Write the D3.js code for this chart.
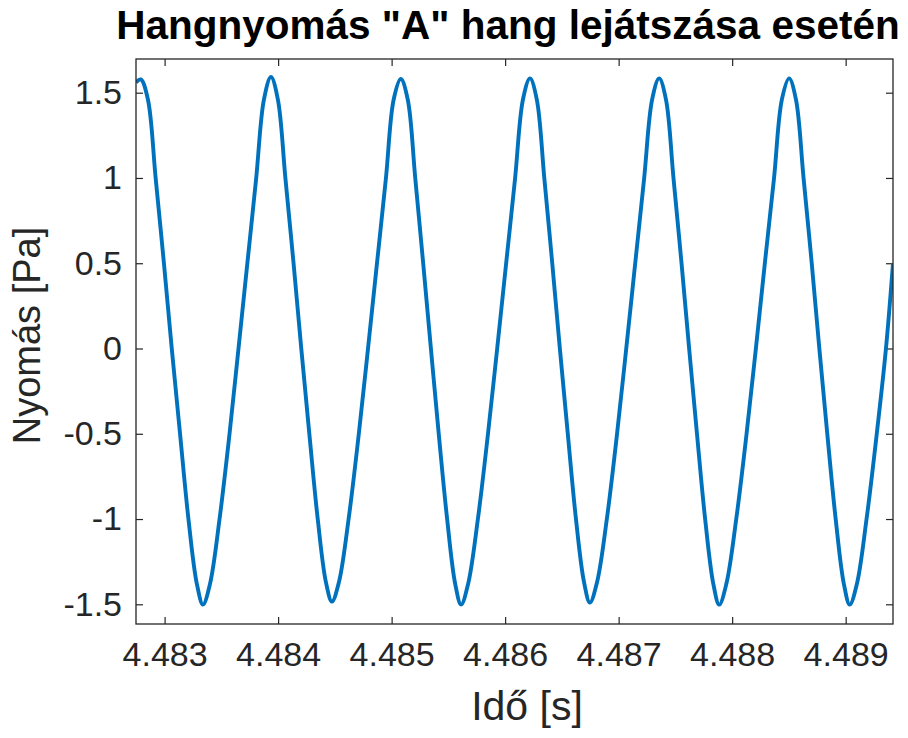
<!DOCTYPE html>
<html>
<head>
<meta charset="utf-8">
<script src="https://cdn.jsdelivr.net/npm/d3@7"></script>
<style>
  html, body { margin: 0; padding: 0; background: #ffffff; }
  svg { display: block; font-family: Arial, "Liberation Sans", Helvetica, sans-serif; }
</style>
</head>
<body>
<svg id="chart" width="908" height="738"></svg>
<script>
// Sound pressure samples while an "A" tone is played (time in s, pressure in Pa)
const timeS = [
  4.482748, 4.482790, 4.482853, 4.482921, 4.482994, 4.483063, 4.483136, 4.483210, 4.483284,
  4.483338, 4.483400, 4.483484, 4.483572, 4.483651, 4.483729, 4.483807, 4.483875,
  4.483937, 4.483998, 4.484064, 4.484136, 4.484204, 4.484275, 4.484349, 4.484421,
  4.484474, 4.484536, 4.484621, 4.484711, 4.484792, 4.484871, 4.484950, 4.485018,
  4.485081, 4.485142, 4.485208, 4.485278, 4.485346, 4.485415, 4.485489, 4.485560,
  4.485612, 4.485674, 4.485760, 4.485849, 4.485930, 4.486009, 4.486088, 4.486157,
  4.486219, 4.486279, 4.486345, 4.486415, 4.486482, 4.486552, 4.486624, 4.486695,
  4.486747, 4.486810, 4.486896, 4.486986, 4.487067, 4.487146, 4.487225, 4.487295,
  4.487357, 4.487417, 4.487483, 4.487554, 4.487621, 4.487690, 4.487762, 4.487834,
  4.487886, 4.487949, 4.488036, 4.488127, 4.488209, 4.488288, 4.488369, 4.488438,
  4.488502, 4.488562, 4.488629, 4.488701, 4.488768, 4.488838, 4.488912, 4.488984,
  4.489036, 4.489099, 4.489184, 4.489274, 4.489355, 4.489417
];
const pressurePa = [
  1.56, 1.578, 1.46, 1.0, 0.5, 0.0, -0.5, -1.0, -1.38,
  -1.502, -1.38, -1.0, -0.5, 0.0, 0.5, 1.0, 1.46,
  1.592, 1.46, 1.0, 0.5, 0.0, -0.5, -1.0, -1.37,
  -1.484, -1.37, -1.0, -0.5, 0.0, 0.5, 1.0, 1.46,
  1.580, 1.46, 1.0, 0.5, 0.0, -0.5, -1.0, -1.38,
  -1.502, -1.38, -1.0, -0.5, 0.0, 0.5, 1.0, 1.46,
  1.584, 1.46, 1.0, 0.5, 0.0, -0.5, -1.0, -1.37,
  -1.490, -1.37, -1.0, -0.5, 0.0, 0.5, 1.0, 1.46,
  1.584, 1.46, 1.0, 0.5, 0.0, -0.5, -1.0, -1.38,
  -1.502, -1.38, -1.0, -0.5, 0.0, 0.5, 1.0, 1.46,
  1.584, 1.46, 1.0, 0.5, 0.0, -0.5, -1.0, -1.38,
  -1.502, -1.38, -1.0, -0.5, 0.0, 0.5
];

const xTicks = [4.483, 4.484, 4.485, 4.486, 4.487, 4.488, 4.489];
const yTicks = [-1.5, -1, -0.5, 0, 0.5, 1, 1.5];
const xLimits = [4.482748, 4.489417];
const yLimits = [-1.6155, 1.6976];

const titleText = 'Hangnyomás "A" hang lejátszása esetén';
const xLabelText = "Idő [s]";
const yLabelText = "Nyomás [Pa]";

const data = timeS.map((t, i) => ({ t, p: pressurePa[i] }));

const svg = d3.select("#chart");
const W = 908, H = 738;
const margin = { top: 59, right: 15, bottom: 114, left: 136 };
const iw = W - margin.left - margin.right;
const ih = H - margin.top - margin.bottom;

const axisColor = "#262626";
const tickFont = 34;

const x = d3.scaleLinear().domain(xLimits).range([0, iw]);
const y = d3.scaleLinear().domain(yLimits).range([ih, 0]);

const g = svg.append("g").attr("transform", `translate(${margin.left},${margin.top})`);

// clip the trace to the axes box
g.append("clipPath").attr("id", "plot-clip")
  .append("rect").attr("width", iw).attr("height", ih);

// plain hyphen-minus labels
const fmtX = d3.format(".3f");
const fmtY = v => String(v);

// bottom axis with inward ticks
const xAxis = g.append("g").attr("transform", `translate(0,${ih})`)
  .call(d3.axisBottom(x).tickValues(xTicks).tickFormat(fmtX).tickSizeInner(-7).tickSizeOuter(0).tickPadding(18));
// top axis ticks only
const xAxisTop = g.append("g")
  .call(d3.axisTop(x).tickValues(xTicks).tickFormat("").tickSizeInner(-7).tickSizeOuter(0));
// left axis with inward ticks
const yAxis = g.append("g")
  .call(d3.axisLeft(y).tickValues(yTicks).tickFormat(fmtY).tickSizeInner(-7).tickSizeOuter(0).tickPadding(14));
// right axis ticks only
const yAxisRight = g.append("g").attr("transform", `translate(${iw},0)`)
  .call(d3.axisRight(y).tickValues(yTicks).tickFormat("").tickSizeInner(-7).tickSizeOuter(0));

[xAxis, xAxisTop, yAxis, yAxisRight].forEach(a => {
  a.select(".domain").remove();
  a.selectAll(".tick line").attr("stroke", axisColor).attr("stroke-width", 1.2);
  a.selectAll(".tick text")
    .attr("fill", axisColor)
    .style("font-size", tickFont + "px")
    .style("font-family", "Arial, 'Liberation Sans', sans-serif");
});
xAxis.selectAll(".tick text").attr("dy", "0.71em");

// the trace
const line = d3.line()
  .x(d => x(d.t))
  .y(d => y(d.p))
  .curve(d3.curveCatmullRom.alpha(0.5));

g.append("path")
  .datum(data)
  .attr("clip-path", "url(#plot-clip)")
  .attr("fill", "none")
  .attr("stroke", "#0072BD")
  .attr("stroke-width", 3.9)
  .attr("stroke-linejoin", "round")
  .attr("d", line);

// axes box
g.append("rect")
  .attr("width", iw).attr("height", ih)
  .attr("fill", "none")
  .attr("stroke", axisColor)
  .attr("stroke-width", 1.3);

// title
svg.append("text")
  .attr("x", 508)
  .attr("y", 39)
  .attr("text-anchor", "middle")
  .attr("fill", "#000")
  .style("font-size", "40.5px")
  .style("font-weight", "bold")
  .text(titleText);

// x label
svg.append("text")
  .attr("x", 527)
  .attr("y", 720)
  .attr("text-anchor", "middle")
  .attr("fill", axisColor)
  .style("font-size", "41px")
  .text(xLabelText);

// y label
svg.append("text")
  .attr("transform", `translate(40,${margin.top + ih / 2 - 6}) rotate(-90)`)
  .attr("text-anchor", "middle")
  .attr("fill", axisColor)
  .style("font-size", "38px")
  .text(yLabelText);
</script>
</body>
</html>
